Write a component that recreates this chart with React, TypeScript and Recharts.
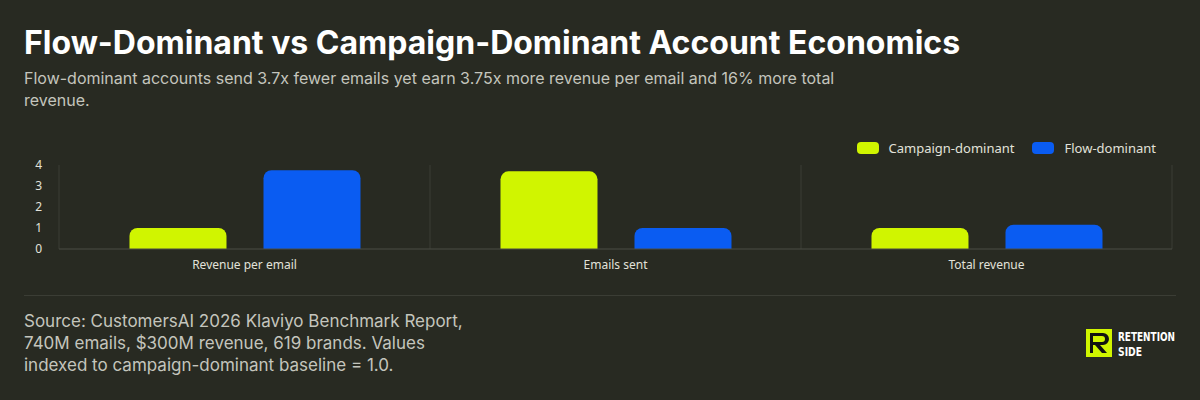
import React from "react";
import { BarChart, Bar, XAxis, YAxis, CartesianGrid, Legend } from "recharts";

const categories = ["Revenue per email", "Emails sent", "Total revenue"];
const campaignValues = [1.0, 3.7, 1.0];
const flowValues = [3.75, 1.0, 1.16];
const yTicks = [0, 1, 2, 3, 4];
const seriesNames = ["Campaign-dominant", "Flow-dominant"];

const BG = "#282a22";
const LIME = "#d0f500";
const BLUE = "#0a5cf2";
const GRID = "#3b3d35";

const data = categories.map((c, i) => ({
  name: c,
  campaign: campaignValues[i],
  flow: flowValues[i],
}));

const LegendContent = () => (
  <div
    style={{
      height: 35,
      display: "flex",
      justifyContent: "flex-end",
      alignItems: "flex-start",
      paddingTop: 10,
      paddingRight: 16,
      boxSizing: "border-box",
      fontFamily: "'Noto Sans', sans-serif",
      fontSize: 13,
      color: "#e2e2da",
    }}
  >
    {[LIME, BLUE].map((col, i) => (
      <div key={i} style={{ display: "flex", alignItems: "center", marginLeft: i === 0 ? 0 : 18, height: 16 }}>
        <div style={{ width: 22, height: 12, borderRadius: 4, background: col, marginRight: 10 }} />
        <span>{seriesNames[i]}</span>
      </div>
    ))}
  </div>
);

const Logo = () => (
  <svg width={116} height={40} style={{ position: "absolute", left: 1080, top: 324 }}>
    <rect x={6} y={5} width={26} height={28} fill={LIME} />
    <path
      d="M10 9 H23 A6 6 0 0 1 23 21 H20 L27 29 H22 L15 21 H13 V29 H10 Z M13 12 V18 H22 A3 3 0 0 0 22 12 Z"
      fill="#111"
      fillRule="evenodd"
    />
    <text x={38} y={17} fill="#fff" fontFamily="'DejaVu Sans Condensed', 'DejaVu Sans', sans-serif" fontWeight="bold" fontSize={12} textLength={57} lengthAdjust="spacingAndGlyphs">
      RETENTION
    </text>
    <text x={38} y={32} fill="#fff" fontFamily="'DejaVu Sans Condensed', 'DejaVu Sans', sans-serif" fontWeight="bold" fontSize={12} textLength={24} lengthAdjust="spacingAndGlyphs">
      SIDE
    </text>
  </svg>
);

export default function App() {
  return (
    <div
      style={{
        position: "absolute",
        left: 0,
        top: 0,
        width: 1200,
        height: 400,
        background: BG,
        overflow: "hidden",
        fontFamily: "Inter, sans-serif",
      }}
    >
      <div
        style={{
          position: "absolute",
          left: 24,
          top: 25,
          fontSize: 32,
          lineHeight: "36px",
          fontWeight: 700,
          color: "#ffffff",
          whiteSpace: "nowrap",
        }}
      >
        Flow-Dominant vs Campaign-Dominant Account Economics
      </div>
      <div
        style={{
          position: "absolute",
          left: 24,
          top: 67,
          width: 830,
          fontSize: 16,
          lineHeight: "22px",
          color: "#c4c5bd",
        }}
      >
        Flow-dominant accounts send 3.7x fewer emails yet earn 3.75x more revenue per email and 16% more total revenue.
      </div>

      <div style={{ position: "absolute", left: 0, top: 130 }}>
        <BarChart
          width={1200}
          height={150}
          data={data}
          margin={{ top: 0, right: 28, bottom: 1, left: 19 }}
          barCategoryGap="19%"
          barGap={37}
        >
          <CartesianGrid
            horizontal={false}
            vertical={true}
            stroke={GRID}
            verticalCoordinatesGenerator={({ offset }: any) =>
              [0, 1, 2, 3].map((i) => offset.left + (i * offset.width) / 3)
            }
          />
          <XAxis
            dataKey="name"
            tickLine={false}
            tickSize={0}
            tickMargin={11}
            height={30}
            axisLine={{ stroke: "#4a4c44" }}
            tick={{ fill: "#e2e2da", fontSize: 12, fontFamily: "'Noto Sans', sans-serif" }}
          />
          <YAxis
            domain={[0, 4]}
            ticks={yTicks}
            width={40}
            tickLine={false}
            tickSize={0}
            tickMargin={17}
            axisLine={false}
            tick={{ fill: "#e2e2da", fontSize: 12, fontFamily: "'Noto Sans', sans-serif" }}
          />
          <Legend verticalAlign="top" align="right" content={<LegendContent />} />
          <Bar dataKey="campaign" name={seriesNames[0]} fill={LIME} radius={[8, 8, 0, 0]} isAnimationActive={false} />
          <Bar dataKey="flow" name={seriesNames[1]} fill={BLUE} radius={[8, 8, 0, 0]} isAnimationActive={false} />
        </BarChart>
      </div>

      <div style={{ position: "absolute", left: 24, top: 295, width: 1152, height: 1, background: "#3b3d35" }} />
      <div
        style={{
          position: "absolute",
          left: 24,
          top: 310,
          width: 455,
          fontSize: 17,
          lineHeight: "22px",
          color: "#c4c5bd",
        }}
      >
        Source: CustomersAI 2026 Klaviyo Benchmark Report, 740M emails, $300M revenue, 619 brands. Values indexed to campaign-dominant baseline = 1.0.
      </div>
      <Logo />
    </div>
  );
}
